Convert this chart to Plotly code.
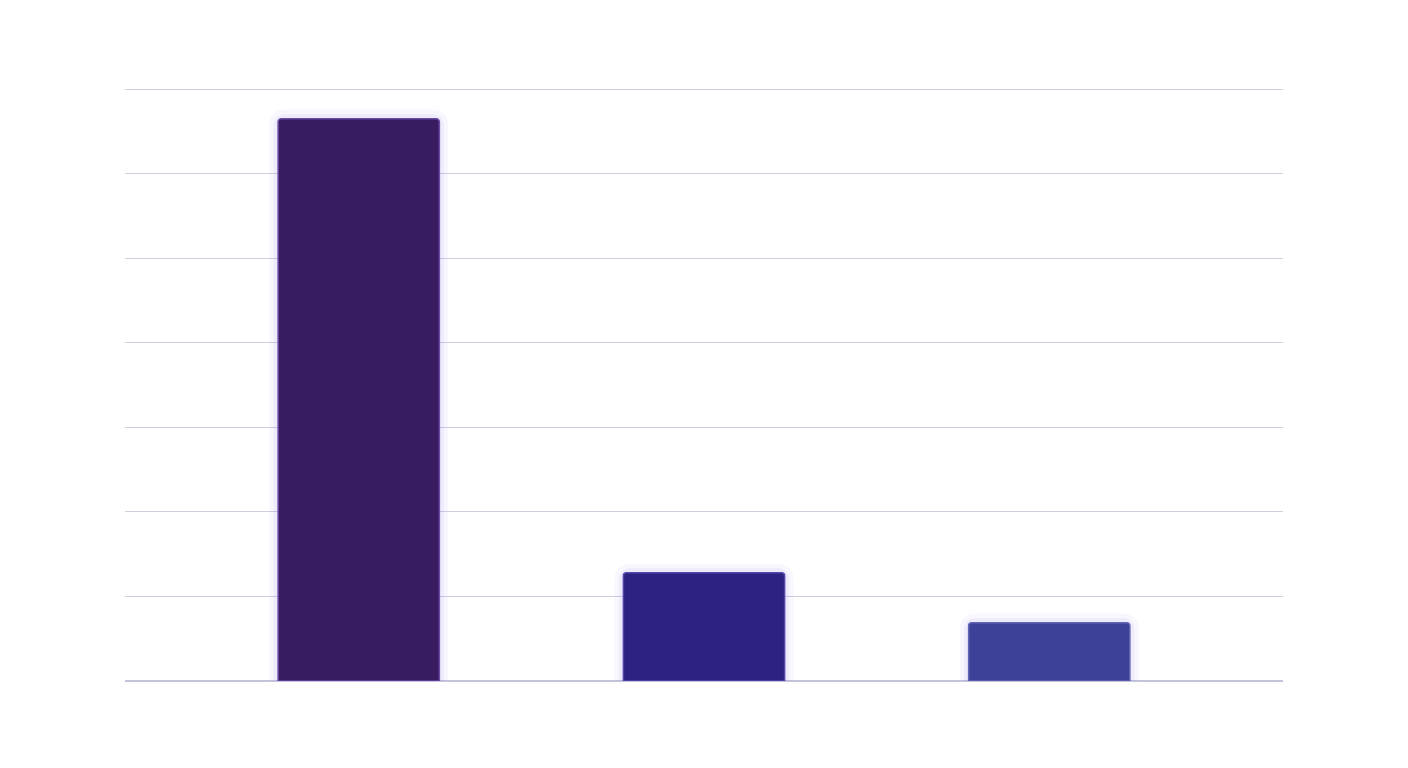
import plotly.graph_objects as go

# bar data (no labels shown in the reference)
categories = [0, 1, 2]
values = [66.5, 12.8, 6.9]
bar_colors = ["#381c62", "#2b2281", "#3d4197"]
edge_colors = ["#6b4aa6", "#5548a8", "#6366b4"]

fig = go.Figure()

# soft glow behind each bar, two layers
for glow_w, glow_a in [(18, 0.05), (9, 0.08)]:
    fig.add_trace(go.Bar(
        x=categories,
        y=values,
        width=0.467,
        marker=dict(color="rgba(0,0,0,0)",
                    line=dict(color=f"rgba(120,100,235,{glow_a})", width=glow_w),
                    cornerradius=6),
        hoverinfo="skip",
        showlegend=False,
    ))

# main bars
fig.add_trace(go.Bar(
    x=categories,
    y=values,
    width=0.467,
    marker=dict(color=bar_colors,
                line=dict(color=edge_colors, width=1.5),
                cornerradius=3),
    showlegend=False,
))

fig.update_layout(
    width=1408,
    height=768,
    barmode="overlay",
    paper_bgcolor="white",
    plot_bgcolor="white",
    margin=dict(l=117, r=133, t=80, b=95),
    xaxis=dict(range=[-0.677, 2.677], showticklabels=False, showgrid=False,
               zeroline=False, showline=False, ticks=""),
    yaxis=dict(range=[0, 70.15], tickvals=[10, 20, 30, 40, 50, 60, 70],
               showticklabels=False,
               gridcolor="#cfcfe2", gridwidth=1,
               zeroline=True, zerolinecolor="#c4c4da", zerolinewidth=1.5,
               showline=False, ticks=""),
)

fig.write_html("out.html")
